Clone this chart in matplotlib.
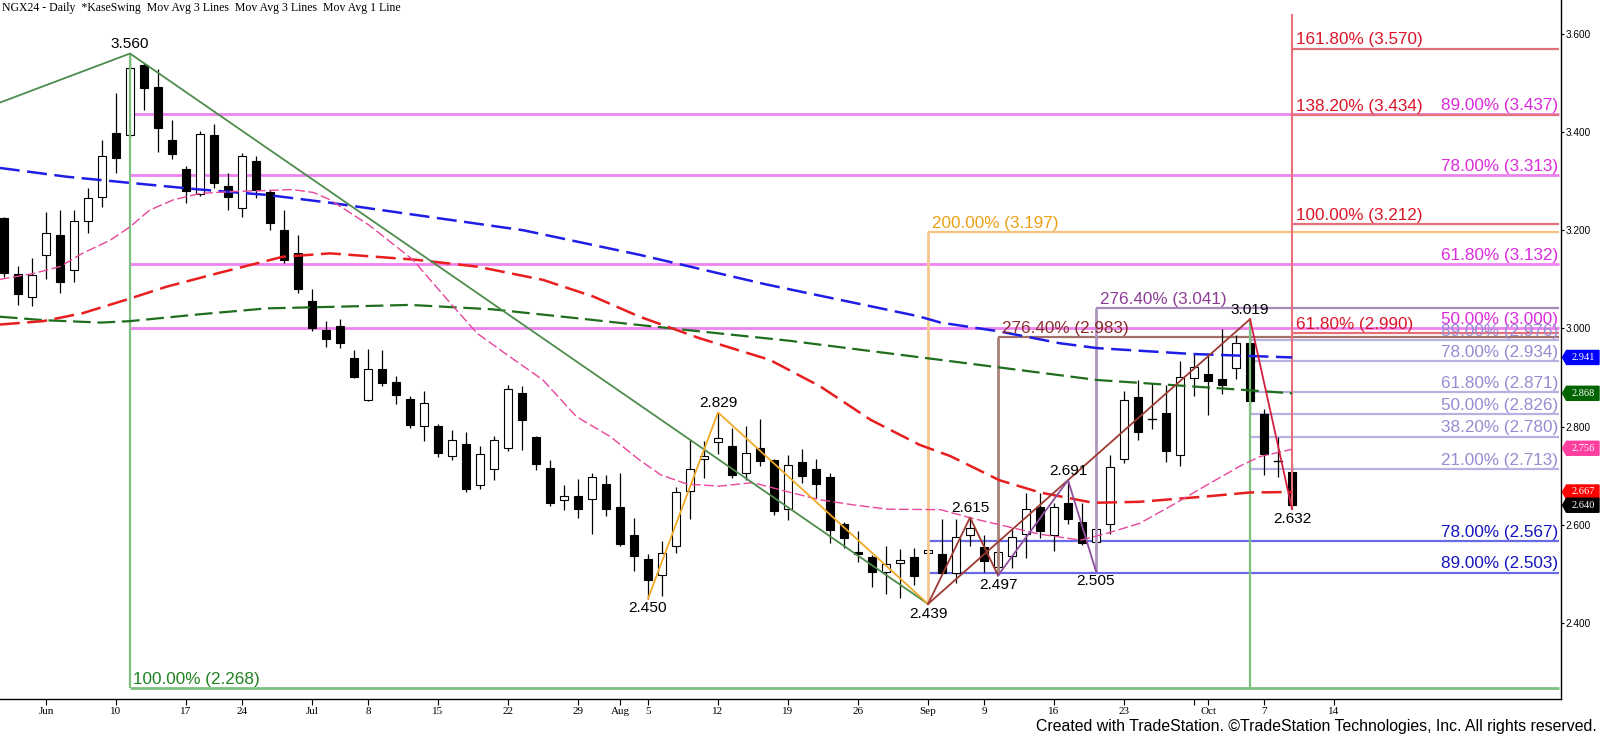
import numpy as np
import pandas as pd
import matplotlib
matplotlib.use('Agg')
import matplotlib.pyplot as plt
from matplotlib.patches import Rectangle, Polygon
from matplotlib.transforms import IdentityTransform

# ---------------- calendar ----------------
holidays = ['2024-06-19', '2024-07-04', '2024-09-02', '2024-11-28']
first_date = '2024-05-29'
calendar_end = '2024-11-29'

# ---------------- daily OHLC (NGX24), May 29 .. Oct 9 2024 ----------------
opens = [3.224, 3.110, 3.064, 3.149, 3.190, 3.119, 3.219, 3.267, 3.398, 3.394,
         3.537, 3.491, 3.384, 3.325, 3.273, 3.394, 3.290, 3.245, 3.341, 3.277,
         3.200, 3.153, 3.056, 2.997, 3.006, 2.939, 2.854, 2.917, 2.890, 2.856,
         2.801, 2.801, 2.740, 2.765, 2.681, 2.713, 2.757, 2.868, 2.779, 2.715,
         2.650, 2.658, 2.652, 2.683, 2.636, 2.579, 2.530, 2.497, 2.558, 2.668,
         2.734, 2.768, 2.761, 2.705, 2.756, 2.732, 2.632, 2.728, 2.714, 2.698,
         2.602, 2.544, 2.535, 2.505, 2.522, 2.534, 2.542, 2.540, 2.501, 2.579,
         2.554, 2.515, 2.537, 2.581, 2.636, 2.579, 2.644, 2.605, 2.566, 2.602,
         2.734, 2.860, 2.815, 2.827, 2.742, 2.899, 2.907, 2.897, 2.919, 2.971,
         2.825, 2.731, 2.707]
highs = [3.228, 3.127, 3.143, 3.237, 3.241, 3.241, 3.286, 3.384, 3.479, 3.560,
         3.541, 3.528, 3.425, 3.330, 3.403, 3.416, 3.316, 3.357, 3.351, 3.283,
         3.241, 3.190, 3.081, 3.015, 3.019, 2.956, 2.958, 2.956, 2.904, 2.863,
         2.873, 2.806, 2.793, 2.789, 2.761, 2.781, 2.884, 2.882, 2.781, 2.732,
         2.681, 2.693, 2.705, 2.702, 2.706, 2.615, 2.540, 2.567, 2.677, 2.773,
         2.771, 2.829, 2.797, 2.801, 2.815, 2.734, 2.742, 2.754, 2.734, 2.706,
         2.605, 2.588, 2.539, 2.556, 2.550, 2.552, 2.552, 2.611, 2.613, 2.615,
         2.579, 2.569, 2.593, 2.664, 2.664, 2.645, 2.691, 2.645, 2.602, 2.742,
         2.873, 2.895, 2.888, 2.885, 2.933, 2.949, 2.946, 2.998, 2.987, 3.019,
         2.837, 2.780, 2.723]
lows = [3.104, 3.047, 3.045, 3.100, 3.072, 3.095, 3.194, 3.248, 3.317, 3.387,
        3.445, 3.360, 3.345, 3.255, 3.270, 3.286, 3.241, 3.228, 3.265, 3.201,
        3.134, 3.072, 2.994, 2.963, 2.961, 2.899, 2.852, 2.882, 2.846, 2.797,
        2.770, 2.739, 2.732, 2.666, 2.673, 2.692, 2.751, 2.753, 2.711, 2.639,
        2.631, 2.614, 2.582, 2.618, 2.558, 2.507, 2.450, 2.456, 2.543, 2.613,
        2.695, 2.744, 2.695, 2.691, 2.719, 2.620, 2.609, 2.685, 2.654, 2.563,
        2.552, 2.525, 2.474, 2.459, 2.452, 2.478, 2.439, 2.501, 2.481, 2.557,
        2.505, 2.497, 2.512, 2.532, 2.573, 2.546, 2.602, 2.559, 2.505, 2.581,
        2.727, 2.773, 2.795, 2.729, 2.719, 2.863, 2.823, 2.867, 2.897, 2.827,
        2.702, 2.697, 2.632]
closes = [3.114, 3.070, 3.108, 3.194, 3.094, 3.218, 3.265, 3.351, 3.347, 3.530,
          3.489, 3.409, 3.355, 3.279, 3.396, 3.297, 3.267, 3.351, 3.282, 3.214,
          3.140, 3.080, 3.000, 2.978, 2.971, 2.901, 2.917, 2.888, 2.865, 2.804,
          2.848, 2.747, 2.772, 2.674, 2.744, 2.772, 2.876, 2.814, 2.723, 2.645,
          2.658, 2.633, 2.697, 2.633, 2.561, 2.537, 2.488, 2.542, 2.666, 2.713,
          2.740, 2.776, 2.702, 2.747, 2.731, 2.629, 2.721, 2.700, 2.684, 2.590,
          2.574, 2.540, 2.505, 2.520, 2.528, 2.495, 2.548, 2.503, 2.576, 2.594,
          2.526, 2.544, 2.575, 2.632, 2.587, 2.637, 2.611, 2.563, 2.592, 2.717,
          2.854, 2.790, 2.815, 2.751, 2.901, 2.921, 2.894, 2.884, 2.970, 2.853,
          2.744, 2.731, 2.640]

# ---------------- moving averages (read at bar positions) ----------------
ma_blue_x = [-0.3, 4.5, 9.2, 14.0, 18.8, 23.3, 37.1, 45.4, 54.4, 65.3, 66.9, 71.1, 75.4, 78.1, 84.9, 89.0, 92.0]
ma_blue_y = [3.327, 3.309, 3.296, 3.283, 3.272, 3.256, 3.200, 3.150, 3.090, 3.025, 3.012, 2.994, 2.970, 2.960, 2.948, 2.944, 2.941]
ma_green_x = [-0.3, 2.8, 6.9, 9.0, 14.0, 18.8, 23.3, 29.0, 34.9, 40.9, 45.4, 56.1, 66.9, 78.1, 84.9, 89.0, 92.0]
ma_green_y = [3.024, 3.017, 3.012, 3.015, 3.029, 3.041, 3.044, 3.048, 3.039, 3.021, 3.007, 2.975, 2.936, 2.895, 2.882, 2.874, 2.868]
ma_red_x = [-0.3, 2.8, 5.6, 9.0, 11.6, 15.2, 19.9, 23.3, 29.4, 33.8, 38.5, 42.1, 45.4, 49.7, 54.7, 58.3, 61.9, 65.4, 67.6, 71.1, 74.0, 77.8, 81.1, 85.9, 89.0, 92.0]
ma_red_y = [3.008, 3.015, 3.031, 3.061, 3.085, 3.112, 3.146, 3.153, 3.140, 3.126, 3.099, 3.065, 3.024, 2.980, 2.936, 2.882, 2.814, 2.763, 2.740, 2.691, 2.666, 2.645, 2.647, 2.658, 2.666, 2.667]
ma_pink_x = [-0.3, 2.1, 4.0, 5.6, 7.6, 9.0, 10.4, 12.1, 14.0, 16.4, 18.8, 20.6, 22.1, 23.3, 26.1, 29.2, 31.9, 33.8, 36.1, 38.5, 40.9, 43.3, 45.4, 46.9, 48.8, 51.1, 53.5, 55.9, 58.3, 60.6, 63.1, 66.9, 69.2, 71.6, 74.0, 76.9, 78.8, 81.1, 83.5, 85.9, 88.3, 89.7, 92.0]
ma_pink_y = [3.100, 3.112, 3.126, 3.153, 3.180, 3.207, 3.241, 3.262, 3.275, 3.279, 3.281, 3.283, 3.277, 3.262, 3.210, 3.140, 3.051, 2.990, 2.943, 2.895, 2.820, 2.780, 2.732, 2.702, 2.683, 2.679, 2.686, 2.668, 2.651, 2.641, 2.632, 2.631, 2.613, 2.597, 2.581, 2.569, 2.583, 2.603, 2.641, 2.681, 2.720, 2.739, 2.754]
ma_last = [2.941, 2.868, 2.756, 2.667]

# ---------------- swing pivots ----------------
pivot_idx = [9, 51, 46, 66, 69, 71, 76, 78, 89, 92]
pivot_price = [3.560, 2.829, 2.450, 2.439, 2.615, 2.497, 2.691, 2.505, 3.019, 2.632]
pivot_side = ['top', 'top', 'bottom', 'bottom', 'top', 'bottom', 'top', 'bottom', 'top', 'bottom']

green_swing_x = [-0.3, 9, 66]
green_swing_y = [3.460, 3.560, 2.439]
orange_swing_x = [46, 51, 66]
orange_swing_y = [2.450, 2.829, 2.439]
brown_swing_x = [66, 69, 71]
brown_swing_y = [2.439, 2.615, 2.497]
brown_trend_x = [66, 89]
brown_trend_y = [2.439, 3.019]
purple_swing_x = [71, 76, 78]
purple_swing_y = [2.497, 2.691, 2.505]
red_swing_x = [89, 92]
red_swing_y = [3.019, 2.632]

# ---------------- fibonacci levels ----------------
magenta_pct = ['89.00%', '78.00%', '61.80%', '50.00%']
magenta_lvl = [3.437, 3.313, 3.132, 3.000]
red_pct = ['161.80%', '138.20%', '100.00%', '61.80%']
red_lvl = [3.570, 3.434, 3.212, 2.990]
lav_pct = ['89.00%', '78.00%', '61.80%', '50.00%', '38.20%', '21.00%']
lav_lvl = [2.976, 2.934, 2.871, 2.826, 2.780, 2.713]
blue_pct = ['78.00%', '89.00%']
blue_lvl = [2.567, 2.503]
orange_pct, orange_lvl = '200.00%', 3.197
brown_pct, brown_lvl = '276.40%', 2.983
purple_pct, purple_lvl = '276.40%', 3.041
green_pct, green_lvl = '100.00%', 2.268
red_vertical_top = 3.640

tick_dates = ['2024-06-03', '2024-06-10', '2024-06-17', '2024-06-24', '2024-07-01', '2024-07-08',
              '2024-07-15', '2024-07-22', '2024-07-29', '2024-08-01', '2024-08-05', '2024-08-12',
              '2024-08-19', '2024-08-26', '2024-09-03', '2024-09-09', '2024-09-16', '2024-09-23',
              '2024-09-30', '2024-10-01', '2024-10-07', '2024-10-14']
tick_labels = ['Jun', '10', '17', '24', 'Jul', '8', '15', '22', '29', 'Aug', '5', '12',
               '19', '26', 'Sep', '9', '16', '23', '', 'Oct', '7', '14']
price_ticks = [2.4, 2.6, 2.8, 3.0, 3.2, 3.4, 3.6]

header = 'NGX24 - Daily  *KaseSwing  Mov Avg 3 Lines  Mov Avg 3 Lines  Mov Avg 1 Line'
footer = 'Created with TradeStation. \u00a9TradeStation Technologies, Inc. All rights reserved.'

# ---------------- build ----------------
trade_days = [d.strftime('%Y-%m-%d') for d in pd.bdate_range(first_date, calendar_end)
              if d.strftime('%Y-%m-%d') not in holidays]
day_pos = {d: i for i, d in enumerate(trade_days)}

W, H, DPI = 1600, 739, 100
fig = plt.figure(figsize=(W / DPI, H / DPI), dpi=DPI)
fig.patch.set_facecolor('white')
ax = fig.add_axes([0, 40 / H, 1561 / W, 699 / H])
ax.set_facecolor('white')
XMIN, XMAX = -0.286, 111.21
ax.set_xlim(XMIN, XMAX)
ax.set_ylim(2.2454, 3.669)
for s in ['top', 'left']:
    ax.spines[s].set_visible(False)
for s in ['right', 'bottom']:
    ax.spines[s].set_color('black')
    ax.spines[s].set_linewidth(1.0)

SANS = ['Liberation Sans', 'DejaVu Sans']
SERIF = ['Liberation Serif', 'DejaVu Serif']
FIB_FS = 12.3
XEND = XMAX - 0.15

def hline(y, x0, color, lw=1.6):
    ax.plot([x0, XEND], [y, y], color=color, lw=lw, zorder=1, solid_capstyle='butt')

def vline(x, y0, y1, color, lw):
    ax.plot([x, x], [y0, y1], color=color, lw=lw, zorder=3.5, solid_capstyle='butt')

def right_label(y, text, color):
    ax.annotate(text, xy=(XEND, y), xytext=(-0.5, 0.8), textcoords='offset points',
                ha='right', va='bottom', color=color, fontsize=FIB_FS, family=SANS, zorder=7)

def left_label(x, y, text, color):
    ax.annotate(text, xy=(x, y), xytext=(2.5, 0.8), textcoords='offset points',
                ha='left', va='bottom', color=color, fontsize=FIB_FS, family=SANS, zorder=7)

# magenta retracements of 3.560 -> 2.439
for p, v in zip(magenta_pct, magenta_lvl):
    hline(v, 9, '#EE82EE', lw=2.0)
    right_label(v, f'{p} ({v:.3f})', '#DD2ADD')
# lavender retracements
for p, v in zip(lav_pct, lav_lvl):
    hline(v, 89, '#B8B2E2', lw=1.6)
    right_label(v, f'{p} ({v:.3f})', '#968CD2')
# blue retracements
for p, v in zip(blue_pct, blue_lvl):
    hline(v, 66, '#6A6AE6', lw=1.6)
    right_label(v, f'{p} ({v:.3f})', '#1414BE')
# red extensions
vline(92, pivot_price[-1], red_vertical_top, '#E8707A', 1.5)
for p, v in zip(red_pct, red_lvl):
    hline(v, 92, '#E4707A', lw=1.6)
    left_label(92, v, f'{p} ({v:.3f})', '#DC1428')
# orange
vline(66, 2.439, orange_lvl, '#F4C890', 2.0)
hline(orange_lvl, 66, '#F4C27E', lw=1.6)
left_label(66, orange_lvl, f'{orange_pct} ({orange_lvl:.3f})', '#EBA014')
# brown
vline(71, 2.497, brown_lvl, '#A8807A', 2.0)
hline(brown_lvl, 71, '#A27068', lw=1.6)
left_label(71, brown_lvl, f'{brown_pct} ({brown_lvl:.3f})', '#8C2C2C')
# purple
vline(78, 2.505, purple_lvl, '#B094C0', 2.0)
hline(purple_lvl, 78, '#A88AB8', lw=1.6)
left_label(78, purple_lvl, f'{purple_pct} ({purple_lvl:.3f})', '#8C3C96')
# green
vline(9, green_lvl, 3.560, '#7EC07E', 1.6)
vline(89, green_lvl, 3.019, '#7EC07E', 1.6)
hline(green_lvl, 9, '#7EC07E', lw=2.0)
left_label(9, green_lvl, f'{green_pct} ({green_lvl:.3f})', '#1E821E')

# ---------------- candles ----------------
BW = 0.6
for i, (o, h, l, c) in enumerate(zip(opens, highs, lows, closes)):
    ax.plot([i, i], [l, h], color='black', lw=0.9, zorder=3, solid_capstyle='butt')
    if abs(c - o) < 0.0025:
        ax.plot([i - BW / 2, i + BW / 2], [o, o], color='black', lw=1.0, zorder=3.1)
    else:
        up = c > o
        ax.add_patch(Rectangle((i - BW / 2, min(o, c)), BW, abs(c - o),
                               facecolor='white' if up else 'black', edgecolor='black',
                               lw=0.8, zorder=3.1))

# ---------------- moving averages ----------------
ax.plot(ma_green_x, ma_green_y, color='#1E6E1E', lw=1.6, dashes=(8, 3), zorder=4)
ax.plot(ma_red_x, ma_red_y, color='#E81E1E', lw=1.8, dashes=(8, 3), zorder=4)
ax.plot(ma_blue_x, ma_blue_y, color='#1E1EE6', lw=1.8, dashes=(8, 3), zorder=4)
ax.plot(ma_pink_x, ma_pink_y, color='#E8469A', lw=1.0, dashes=(7, 2.5), zorder=4)

# ---------------- swing lines ----------------
ax.plot(green_swing_x, green_swing_y, color='#4C8C4C', lw=1.3, zorder=5)
ax.plot(orange_swing_x, orange_swing_y, color='#F0AA28', lw=1.3, zorder=5)
ax.plot(brown_trend_x, brown_trend_y, color='#9C3A32', lw=1.3, zorder=5)
ax.plot(brown_swing_x, brown_swing_y, color='#9C3A32', lw=1.3, zorder=5)
ax.plot(purple_swing_x, purple_swing_y, color='#8E4E9E', lw=1.3, zorder=5)
ax.plot(red_swing_x, red_swing_y, color='#D42040', lw=1.3, zorder=5)

for x, y, side in zip(pivot_idx, pivot_price, pivot_side):
    if side == 'top':
        ax.annotate(f'{y:.3f}', xy=(x, y), xytext=(0, 1.5), textcoords='offset points',
                    ha='center', va='bottom', fontsize=11.1, family=SANS, color='black', zorder=8)
    else:
        ax.annotate(f'{y:.3f}', xy=(x, y), xytext=(0, -2.0), textcoords='offset points',
                    ha='center', va='top', fontsize=11.1, family=SANS, color='black', zorder=8)

# ---------------- axes ticks ----------------
ax.set_xticks([day_pos[d] for d in tick_dates])
ax.set_xticklabels(tick_labels, family=SERIF, fontsize=8)
ax.tick_params(axis='x', direction='out', length=4, width=0.8, pad=1.5, color='black')
ax.yaxis.tick_right()
ax.set_yticks(price_ticks)
ax.set_yticklabels([f'{v:.3f}' for v in price_ticks], family=SANS, fontsize=7.2)
ax.tick_params(axis='y', direction='out', length=2.5, width=0.8, pad=1, color='black')

# ---------------- last value tags ----------------
tag_colors = ['#0000FF', '#006400', '#FF40A0', '#FF0000', '#000000']
tag_values = ma_last + [closes[-1]]
fig.canvas.draw()
for v, col in zip(tag_values, tag_colors):
    yc = ax.transData.transform((0, v))[1]
    x0, x1, hh = 1562.5, 1599, 7
    poly = Polygon([(x0, yc), (x0 + 4, yc + hh), (x1, yc + hh), (x1, yc - hh), (x0 + 4, yc - hh)],
                   closed=True, facecolor=col, edgecolor=col, transform=IdentityTransform(), zorder=10)
    fig.add_artist(poly)
    fig.text((x0 + 4 + x1) / 2 / W, yc / H, f'{v:.3f}', ha='center', va='center',
             color='white', fontsize=7.5, family=SERIF, zorder=11)

fig.text(2 / W, 1 - 8 / H, header, ha='left', va='center', family=SERIF, fontsize=8.5, color='black')
fig.text(1597 / W, 1 - 727 / H, footer, ha='right', va='center',
         family=['Liberation Sans Narrow', 'Liberation Sans'], fontsize=11.4, color='black')

fig.savefig('out.png', dpi=DPI, facecolor='white')
